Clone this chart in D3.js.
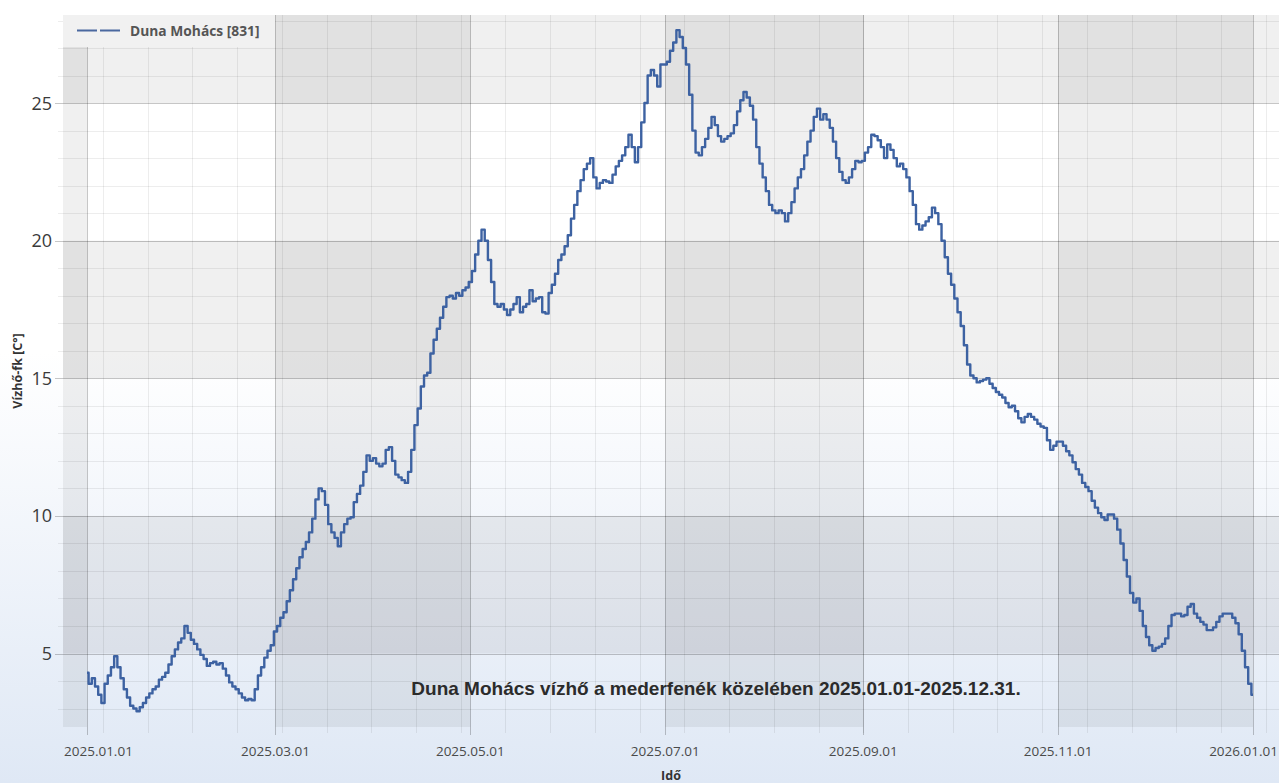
<!DOCTYPE html>
<html>
<head>
<meta charset="utf-8">
<script src="https://cdn.jsdelivr.net/npm/d3@7"></script>
<style>
  html, body { margin: 0; padding: 0; }
  body { width: 1279px; height: 783px; overflow: hidden; }
  svg { display: block; }
</style>
</head>
<body>
<svg id="chart" width="1279" height="783"></svg>
<script>
// Daily water temperature near the river bed, Duna Mohács [831], 2025
const seriesName = "Duna Mohács [831]";
const firstDay = "2025-01-01";
const janTemps = [4.3,3.9,4.1,3.8,3.5,3.2,3.9,4.2,4.5,4.9,4.5,4.1,3.7,3.4,3.1,3.0,2.9,3.05,3.2,3.4,3.55,3.7,3.8,4.05,4.15,4.3,4.6,4.9,5.15,5.4,5.55];
const febTemps = [6.0,5.75,5.5,5.35,5.15,4.95,4.8,4.55,4.65,4.7,4.6,4.65,4.45,4.2,3.95,3.8,3.7,3.55,3.4,3.3,3.35,3.3,3.7,4.2,4.5,4.85,5.1,5.3];
const marTemps = [5.8,6.0,6.3,6.5,6.9,7.3,7.7,8.1,8.5,8.8,9.05,9.4,9.9,10.6,11.0,10.9,10.4,9.7,9.4,9.2,8.9,9.4,9.7,9.9,9.95,10.5,10.8,11.1,11.6,12.2,12.0];
const aprTemps = [12.1,11.9,11.8,11.9,12.4,12.5,12.0,11.5,11.4,11.3,11.2,11.6,12.4,13.3,13.9,14.7,15.1,15.2,15.9,16.4,16.8,17.2,17.6,17.95,18.0,17.9,18.1,18.0,18.2,18.3];
const mayTemps = [18.5,18.9,19.5,20.0,20.4,20.0,19.3,18.5,17.7,17.6,17.7,17.5,17.3,17.5,17.7,17.95,17.4,17.6,17.7,18.2,17.8,17.9,17.95,17.4,17.35,18.1,18.4,18.8,19.3,19.5,19.8];
const junTemps = [20.2,20.8,21.3,21.8,22.2,22.6,22.8,23.0,22.3,21.9,22.1,22.2,22.15,22.1,22.4,22.7,22.9,23.1,23.4,23.85,23.4,22.85,23.4,24.3,25.0,26.0,26.2,26.0,25.6,26.4];
const julTemps = [26.4,26.5,26.9,27.2,27.65,27.4,27.0,26.4,25.3,24.0,23.2,23.1,23.4,23.7,24.1,24.5,24.2,23.8,23.6,23.7,23.8,23.9,24.2,24.7,25.1,25.4,25.2,24.9,24.4,23.4,22.8];
const augTemps = [22.3,21.8,21.3,21.1,21.0,21.1,21.0,20.7,21.0,21.4,21.9,22.3,22.6,23.1,23.6,24.0,24.5,24.8,24.4,24.6,24.4,24.1,23.6,23.0,22.5,22.2,22.1,22.3,22.6,22.9,22.85];
const sepTemps = [22.9,23.2,23.4,23.85,23.8,23.65,23.4,23.0,23.5,23.3,23.0,22.7,22.8,22.6,22.3,21.8,21.3,20.6,20.4,20.55,20.7,20.85,21.2,21.0,20.6,20.0,19.4,18.8,18.4,17.9];
const octTemps = [17.4,16.9,16.2,15.5,15.1,15.0,14.85,14.9,14.95,15.0,14.8,14.65,14.5,14.4,14.3,14.1,13.95,14.0,13.8,13.55,13.4,13.6,13.7,13.6,13.5,13.35,13.25,13.2,12.75,12.4,12.55];
const novTemps = [12.7,12.7,12.55,12.35,12.2,11.95,11.7,11.5,11.2,11.05,10.9,10.55,10.3,10.1,9.95,9.85,10.05,10.05,9.9,9.5,9.0,8.4,7.8,7.2,6.85,7.0,6.55,6.0,5.6,5.3];
const decTemps = [5.1,5.2,5.25,5.35,5.55,6.0,6.4,6.45,6.45,6.35,6.4,6.7,6.8,6.45,6.3,6.15,6.05,5.85,5.85,5.95,6.15,6.35,6.45,6.45,6.45,6.3,6.1,5.7,5.1,4.5,3.9];
const newYearTemps = [3.5];

const yMajorTicks = [5, 10, 15, 20, 25];
const xMajorLabels = ["2025.01.01", "2025.03.01", "2025.05.01", "2025.07.01", "2025.09.01", "2025.11.01", "2026.01.01"];
const chartTitle = "Duna Mohács vízhő a mederfenék közelében 2025.01.01-2025.12.31.";
const yTitle = "Vízhő-fk [C°]";
const xTitle = "Idő";

// ---- layout ----
const W = 1279, H = 783;
const plot = { left: 63, top: 15, right: 1279, bottom: 727 };
const uiFont = "'Open Sans', 'Noto Sans', sans-serif";

const parseDay = d3.utcParse("%Y-%m-%d");
const parseLabel = d3.utcParse("%Y.%m.%d");
const start = parseDay(firstDay);
const allTemps = [].concat(janTemps, febTemps, marTemps, aprTemps, mayTemps, junTemps,
  julTemps, augTemps, sepTemps, octTemps, novTemps, decTemps, newYearTemps);
const data = allTemps.map((v, i) => ({ date: d3.utcDay.offset(start, i), value: v }));

const x = d3.scaleUtc()
  .domain([parseLabel(xMajorLabels[0]), parseLabel(xMajorLabels[xMajorLabels.length - 1])])
  .range([87, 1253]);
const y = d3.scaleLinear().domain([2.33, 28.2]).range([plot.bottom, plot.top]);

const xLeftDate = x.invert(plot.left), xRightDate = x.invert(plot.right);

const svg = d3.select("#chart");
const defs = svg.append("defs");

const bg = defs.append("linearGradient").attr("id", "pageBg")
  .attr("x1", 0).attr("y1", 0).attr("x2", 0).attr("y2", 1);
bg.append("stop").attr("offset", "0%").attr("stop-color", "#ffffff");
bg.append("stop").attr("offset", "45%").attr("stop-color", "#ffffff");
bg.append("stop").attr("offset", "100%").attr("stop-color", "#dfe8f5");

defs.append("clipPath").attr("id", "plotClip").append("rect")
  .attr("x", plot.left).attr("y", plot.top)
  .attr("width", plot.right - plot.left).attr("height", plot.bottom - plot.top);

svg.append("rect").attr("width", W).attr("height", H).attr("fill", "url(#pageBg)");

// ---- alternating bands ----
const bandG = svg.append("g").attr("clip-path", "url(#plotClip)");
const majorDates = xMajorLabels.map(parseLabel);
const colEdges = [xLeftDate, ...majorDates, xRightDate];
const colBands = d3.pairs(colEdges).map((p, i) => ({ a: p[0], b: p[1], shade: i % 2 === 0 }));
bandG.selectAll("rect.col").data(colBands.filter(d => d.shade)).join("rect")
  .attr("class", "col")
  .attr("x", d => x(d.a)).attr("width", d => x(d.b) - x(d.a))
  .attr("y", plot.top).attr("height", plot.bottom - plot.top)
  .attr("fill", "#000").attr("fill-opacity", 0.058);

const yDomain = y.domain();
const rowEdges = [yDomain[0], ...yMajorTicks, yDomain[1]];
const rowBands = d3.pairs(rowEdges).map((p, i) => ({ a: p[0], b: p[1], shade: i % 2 === 1 }));
bandG.selectAll("rect.row").data(rowBands.filter(d => d.shade)).join("rect")
  .attr("class", "row")
  .attr("x", plot.left).attr("width", plot.right - plot.left)
  .attr("y", d => y(d.b)).attr("height", d => y(d.a) - y(d.b))
  .attr("fill", "#000").attr("fill-opacity", 0.058);

// ---- grid ----
const gridG = svg.append("g");
const yMinorTicks = d3.range(3, 29).filter(v => !yMajorTicks.includes(v));
const xMinorDates = d3.utcDay.range(parseDay("2024-12-23"), xRightDate, 14)
  .filter(d => d >= xLeftDate);

gridG.selectAll("line.ymin").data(yMinorTicks).join("line")
  .attr("x1", plot.left - 5).attr("x2", plot.right)
  .attr("y1", d => Math.round(y(d)) + 0.5).attr("y2", d => Math.round(y(d)) + 0.5)
  .attr("stroke", "#000").attr("stroke-opacity", 0.07);
gridG.selectAll("line.xmin").data(xMinorDates).join("line")
  .attr("x1", d => Math.round(x(d)) + 0.5).attr("x2", d => Math.round(x(d)) + 0.5)
  .attr("y1", plot.top).attr("y2", plot.bottom + 6)
  .attr("stroke", "#000").attr("stroke-opacity", 0.07);
gridG.selectAll("line.ymaj").data(yMajorTicks).join("line")
  .attr("x1", plot.left - 8).attr("x2", plot.right)
  .attr("y1", d => Math.round(y(d)) + 0.5).attr("y2", d => Math.round(y(d)) + 0.5)
  .attr("stroke", "#000").attr("stroke-opacity", 0.22);
gridG.selectAll("line.xmaj").data(majorDates).join("line")
  .attr("x1", d => Math.round(x(d)) + 0.5).attr("x2", d => Math.round(x(d)) + 0.5)
  .attr("y1", plot.top).attr("y2", plot.bottom + 8)
  .attr("stroke", "#000").attr("stroke-opacity", 0.22);

// ---- axis labels ----
svg.append("g").selectAll("text").data(yMajorTicks).join("text")
  .attr("x", 52).attr("y", d => y(d))
  .attr("dy", "0.36em").attr("text-anchor", "end")
  .attr("font-family", uiFont).attr("font-size", 18)
  .attr("fill", "#3a3a3a").text(d => d);

const xLabelG = svg.append("g")
  .attr("font-family", uiFont).attr("font-size", 13.5)
  .attr("fill", "#4a4a4a");
xLabelG.selectAll("text").data(xMajorLabels).join("text")
  .attr("y", 756)
  .attr("text-anchor", "middle")
  .text(d => d)
  .each(function (d) {
    const w = this.getComputedTextLength();
    const cx = Math.max(plot.left + w / 2 + 1, Math.min(plot.right - w / 2 - 1, x(parseLabel(d))));
    d3.select(this).attr("x", cx);
  });

svg.append("text")
  .attr("transform", `translate(22,${(plot.top + plot.bottom) / 2}) rotate(-90)`)
  .attr("text-anchor", "middle")
  .attr("font-family", uiFont).attr("font-weight", "bold")
  .attr("font-size", 12.5).attr("fill", "#333").text(yTitle);

svg.append("text")
  .attr("x", (plot.left + plot.right) / 2).attr("y", 780)
  .attr("text-anchor", "middle")
  .attr("font-family", uiFont).attr("font-weight", "bold")
  .attr("font-size", 12.5).attr("fill", "#333").text(xTitle);

// ---- series ----
const line = d3.line().x(d => x(d.date)).y(d => y(d.value)).curve(d3.curveStep);
svg.append("g").attr("clip-path", "url(#plotClip)")
  .append("path").datum(data)
  .attr("d", line)
  .attr("fill", "none").attr("stroke", "#3d62a2").attr("stroke-width", 2.4)
  .attr("stroke-linejoin", "round");

// ---- chart caption ----
svg.append("text")
  .attr("x", 716).attr("y", 695).attr("text-anchor", "middle")
  .attr("font-family", "'Liberation Sans', Arial, sans-serif").attr("font-weight", "bold")
  .attr("font-size", 19).attr("fill", "#2b2b2b").text(chartTitle);

// ---- legend ----
const legend = svg.append("g");
legend.append("rect").attr("x", plot.left).attr("y", plot.top)
  .attr("width", 212).attr("height", 32).attr("fill", "#f1f1f1");
legend.append("line").attr("x1", 77).attr("x2", 120).attr("y1", 30.5).attr("y2", 30.5)
  .attr("stroke", "#4a689f").attr("stroke-width", 2).attr("stroke-dasharray", "20,3");
legend.append("text").attr("x", 130).attr("y", 35.5)
  .attr("font-family", uiFont).attr("font-weight", "bold")
  .attr("font-size", 13.8).attr("fill", "#555").text(seriesName);
</script>
</body>
</html>
